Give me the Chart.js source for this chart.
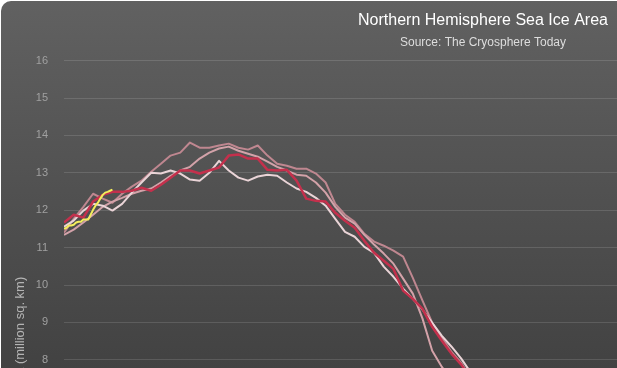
<!DOCTYPE html>
<html>
<head>
<meta charset="utf-8">
<script src="https://cdn.jsdelivr.net/npm/chart.js@4.4.1/dist/chart.umd.min.js"></script>
<style>
  body { margin: 0; background: #fff; overflow: hidden; }
  #wrap {
    position: absolute; left: 1px; top: 1px;
    width: 964px; height: 700px;
    border-radius: 10px;
    background: linear-gradient(to bottom, #616161 0px, #424242 368px, #2c2c2c 700px);
  }
</style>
</head>
<body>
<div id="wrap"><canvas id="chart" width="964" height="700"></canvas></div>
<script>
"use strict";
// day of year, every 4 days (older seasons)
const days = [1, 5, 9, 13, 17, 21, 25, 29, 33, 37, 41, 45, 49, 53, 57, 61, 65, 69, 73, 77,
  81, 85, 89, 93, 97, 101, 105, 109, 113, 117, 121, 125, 129, 133, 137, 141, 145, 149, 153, 157,
  161, 165, 169, 173];
const seasonRed = [11.67, 11.88, 11.80, 12.23, 12.41, 12.49, 12.49, 12.52, 12.60, 12.52,
  12.68, 12.87, 13.06, 13.06, 12.98, 13.06, 13.14, 13.46, 13.49, 13.38,
  13.38, 13.08, 13.06, 13.08, 12.79, 12.31, 12.25, 12.23, 11.93, 11.72,
  11.53, 11.18, 10.86, 10.65, 10.43, 9.85, 9.63, 9.36, 8.88, 8.51,
  8.16, 7.87, 7.49, 7.12];
const seasonWhite = [11.56, 11.72, 11.99, 12.17, 12.12, 11.99, 12.17, 12.47, 12.74, 13.00,
  12.98, 13.06, 12.98, 12.82, 12.79, 13.00, 13.32, 13.06, 12.87, 12.79,
  12.90, 12.95, 12.92, 12.74, 12.58, 12.49, 12.33, 12.12, 11.77, 11.42,
  11.29, 11.02, 10.86, 10.49, 10.22, 9.90, 9.63, 9.34, 8.99, 8.64,
  8.35, 8.03, 7.65, 7.30];
const seasonRose = [11.40, 11.77, 12.09, 12.44, 12.31, 12.20, 12.44, 12.63, 12.79, 13.03,
  13.24, 13.46, 13.54, 13.81, 13.67, 13.67, 13.73, 13.78, 13.67, 13.62,
  13.73, 13.46, 13.24, 13.19, 13.11, 13.11, 12.98, 12.74, 12.17, 11.88,
  11.69, 11.37, 11.16, 11.05, 10.92, 10.76, 10.19, 9.58, 8.99, 8.59,
  8.21, 7.92, 7.49, 7.12];
const seasonPink = [11.34, 11.48, 11.67, 11.88, 12.09, 12.23, 12.33, 12.44, 12.52, 12.58,
  12.74, 12.92, 13.06, 13.16, 13.38, 13.54, 13.65, 13.70, 13.59, 13.51,
  13.43, 13.30, 13.16, 13.06, 12.95, 12.92, 12.74, 12.47, 12.09, 11.80,
  11.64, 11.34, 11.08, 10.84, 10.57, 10.17, 9.77, 9.10, 8.24, 7.81,
  7.44, 7.12, 6.80, 6.47];
// current season, daily
const currentDays = [1, 2, 3, 4, 5, 6, 7, 8, 9, 10, 11, 12, 13, 14, 15, 16, 17, 18, 19, 20, 21];
const currentValues = [11.50, 11.53, 11.59, 11.59, 11.61, 11.67, 11.69, 11.69, 11.75, 11.75,
  11.75, 11.88, 12.01, 12.12, 12.20, 12.31, 12.41, 12.47, 12.49, 12.52, 12.55];
const yTicks = [0, 16, 1]; // min, max, step

Chart.defaults.font.family = "'Liberation Sans', Arial, sans-serif";

function pts(xs, ys) {
  return ys.map((v, i) => ({ x: xs[i], y: v }));
}
function line(label, xs, ys, color, width) {
  return {
    label: label,
    data: pts(xs, ys),
    borderColor: color,
    borderWidth: width,
    pointRadius: 0,
    tension: 0,
    borderJoinStyle: 'round',
    fill: false
  };
}

new Chart(document.getElementById('chart'), {
  type: 'line',
  data: {
    datasets: [
      line('2012', currentDays, currentValues, '#f4ee5c', 2),
      line('2011', days, seasonRed, '#c4304c', 2.5),
      line('2010', days, seasonWhite, '#ead4d7', 2),
      line('2009', days, seasonPink, '#d3a2a9', 2),
      line('2008', days, seasonRose, '#bf8790', 2)
    ]
  },
  options: {
    responsive: false,
    animation: false,
    layout: { padding: { left: 12, right: 12, top: 0, bottom: 42 } },
    plugins: {
      legend: { display: false },
      tooltip: { enabled: false },
      title: {
        display: true,
        text: 'Northern Hemisphere Sea Ice Area',
        color: '#ffffff',
        font: { size: 16, weight: 'normal' },
        padding: { top: 10, bottom: 0 }
      },
      subtitle: {
        display: true,
        text: 'Source: The Cryosphere Today',
        color: '#dddddd',
        font: { size: 12, weight: 'normal' },
        padding: { top: 5, bottom: 11 }
      }
    },
    scales: {
      x: { type: 'linear', min: 1, max: 368, display: false },
      y: {
        min: yTicks[0],
        max: yTicks[1],
        ticks: { stepSize: yTicks[2], color: '#a0a0a0', font: { size: 11 }, padding: 16 },
        grid: { color: 'rgba(255,255,255,0.13)', drawTicks: false },
        border: { display: false },
        title: {
          display: true,
          text: 'Sea Ice Area (million sq. km)',
          color: '#b4b4b4',
          font: { size: 13 },
          padding: { top: 0, bottom: 0 }
        },
        afterFit: function (scale) { scale.width = 51; }
      }
    }
  }
});
</script>
</body>
</html>
